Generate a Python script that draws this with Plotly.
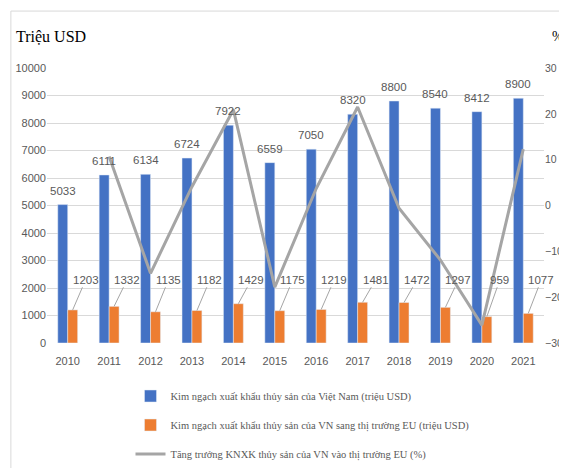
import plotly.graph_objects as go

years = [2010, 2011, 2012, 2013, 2014, 2015, 2016, 2017, 2018, 2019, 2020, 2021]
year_labels = [str(y) for y in years]
vn_export = [5033, 6111, 6134, 6724, 7922, 6559, 7050, 8320, 8800, 8540, 8412, 8900]
eu_export = [1203, 1332, 1135, 1182, 1429, 1175, 1219, 1481, 1472, 1297, 959, 1077]
eu_growth = [None, 10.7, -14.8, 4.1, 20.9, -17.8, 3.7, 21.5, -0.6, -11.9, -26.1, 12.3]
series_names = [
    "Kim ngạch xuất khẩu thủy sản của Việt Nam (triệu USD)",
    "Kim ngạch xuất khẩu thủy sản của VN sang thị trường EU (triệu USD)",
    "Tăng trưởng KNXK thủy sản của VN vào thị trường EU (%)",
]

BLUE, ORANGE, GRAY = "#4472C4", "#ED7D31", "#A5A5A5"
TXT = "#595959"
NUM_FONT = "Liberation Sans Narrow, Arial Narrow, Liberation Sans, sans-serif"
SERIF = "Liberation Serif, Times New Roman, serif"
BAR_W = 0.24

fig = go.Figure()
fig.add_bar(x=years, y=vn_export, width=BAR_W, offset=-BAR_W, marker_color=BLUE,
            name=series_names[0], legendgroup="a")
fig.add_bar(x=years, y=eu_export, width=BAR_W, offset=0, marker_color=ORANGE,
            name=series_names[1], legendgroup="b")
fig.add_scatter(x=years, y=eu_growth, yaxis="y2", mode="lines",
                line=dict(color=GRAY, width=3), name=series_names[2], legendgroup="c")

for yr, v in zip(years, vn_export):
    fig.add_annotation(x=yr - BAR_W / 2, y=v, text=str(v), showarrow=False,
                       yanchor="bottom", yshift=6,
                       font=dict(family=NUM_FONT, size=11.5, color=TXT))

for yr, v in zip(years, eu_export):
    fig.add_annotation(x=yr + BAR_W / 2, y=v, text=str(v), showarrow=True,
                       arrowhead=0, arrowwidth=1, arrowcolor=GRAY, standoff=0,
                       axref="pixel", ax=13, ayref="y", ay=2300,
                       font=dict(family=NUM_FONT, size=11.5, color=TXT))

fig.add_annotation(xref="paper", yref="paper", x=-0.066, y=1.113, xanchor="left",
                   yanchor="middle", text="Triệu USD", showarrow=False,
                   font=dict(family=SERIF, size=16, color="#000000"))
fig.add_annotation(xref="paper", yref="paper", x=1.012, y=1.113, xanchor="left",
                   yanchor="middle", text="%", showarrow=False,
                   font=dict(family=SERIF, size=14, color="#000000"))

fig.add_shape(type="rect", xref="paper", yref="paper", x0=-0.0727, x1=1.3,
              y0=-0.6, y1=1.207, line=dict(color="#D9D9D9", width=1),
              fillcolor="rgba(0,0,0,0)", layer="below")

fig.update_layout(
    width=559, height=460,
    margin=dict(l=39, r=23, t=60, b=125, autoexpand=False),
    paper_bgcolor="white", plot_bgcolor="white",
    barmode="overlay",
    showlegend=True,
    legend=dict(orientation="v", x=0.168, xanchor="left", y=-0.14, yanchor="top",
                font=dict(family=SERIF, size=10.5, color=TXT),
                traceorder="grouped", tracegroupgap=10, itemwidth=30,
                bgcolor="rgba(0,0,0,0)"),
    xaxis=dict(range=[2009.5, 2021.5], tickmode="array", tickvals=years,
               ticktext=year_labels, showgrid=False, zeroline=False, showline=False,
               ticks="", ticklabelstandoff=10,
               tickfont=dict(family=NUM_FONT, size=11, color=TXT)),
    yaxis=dict(range=[0, 10000], dtick=1000, tickformat="d", showgrid=True,
               gridcolor="#D9D9D9", gridwidth=1, zeroline=False, showline=False,
               ticks="", automargin=False,
               tickfont=dict(family=NUM_FONT, size=11, color=TXT)),
    yaxis2=dict(range=[-30, 30], dtick=10, tickformat="d", overlaying="y", side="right",
                showgrid=False, zeroline=False, showline=False, ticks="",
                automargin=False,
                tickfont=dict(family=NUM_FONT, size=10.5, color=TXT)),
)

fig.write_html("out.html")
